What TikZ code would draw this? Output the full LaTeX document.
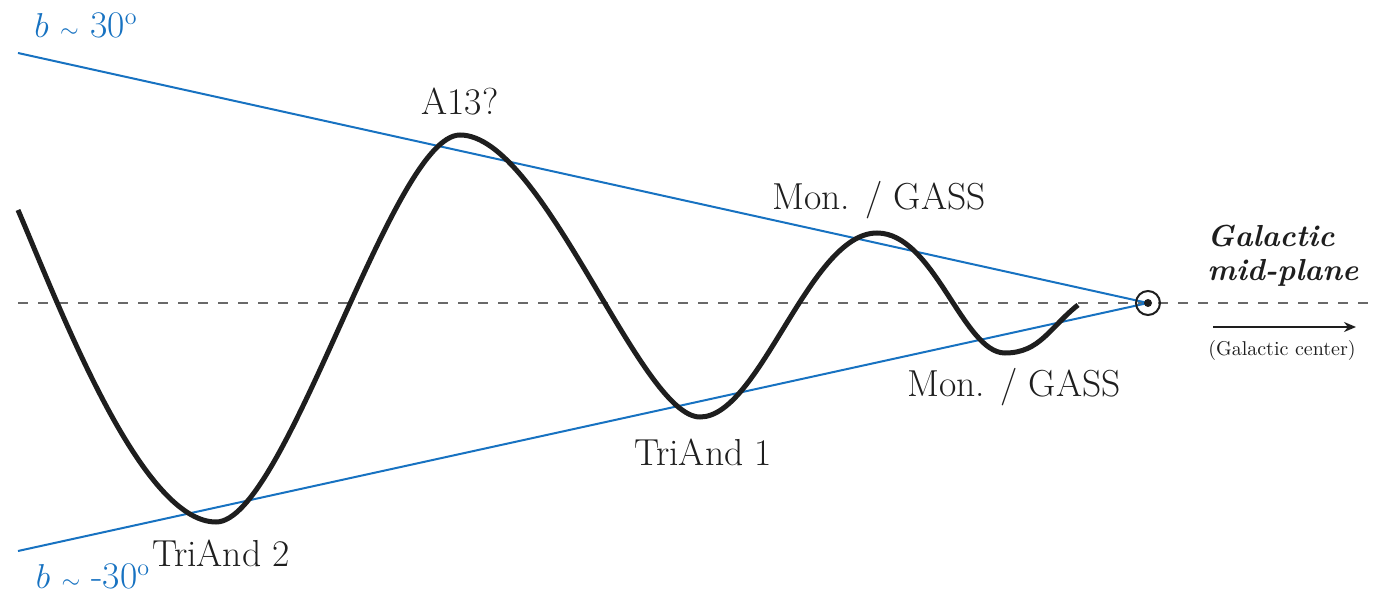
\documentclass[tikz,border=0pt]{standalone}
\usetikzlibrary{arrows.meta}
\definecolor{skyblue}{RGB}{23,114,193}
\definecolor{midgray}{RGB}{105,105,105}
\definecolor{inkblack}{RGB}{30,30,30}
\begin{document}
\begin{tikzpicture}[x=0.5pt,y=-0.5pt,
  bigtext/.style={font=\fontsize{18.8}{22}\selectfont, text=inkblack, inner sep=0pt},
  bluetext/.style={font=\fontsize{18.8}{22}\selectfont, text=skyblue, inner sep=0pt},
  bound/.style={draw=skyblue, line width=1pt},
  wave/.style={draw=inkblack, line width=2.5pt},
  plane/.style={draw=midgray, line width=1.4pt, dash pattern=on 5pt off 5pt}]
\useasboundingbox (0,0) rectangle (1376,593);
% vertex / sun
\coordinate (sun) at (1148,303);
\coordinate (topstart) at (18,53);
\coordinate (botstart) at (18,551);
\coordinate (planeL) at (18,303);
\coordinate (planeR) at (1372,303);
\draw[plane] (planeL) -- (planeR);
\draw[bound] (topstart) -- (sun);
\draw[bound] (botstart) -- (sun);
\node[draw=inkblack, circle, line width=1pt, minimum size=12pt, inner sep=0pt] (suncirc) at (sun) {};
\fill[inkblack] (sun) circle (2pt);
% wave
\coordinate (w0) at (18,210);
\coordinate (w1) at (216,522);
\coordinate (w2) at (460,135);
\coordinate (w3) at (700,417);
\coordinate (w4) at (877,233);
\coordinate (w5) at (1005,353);
\coordinate (w6) at (1078,305);
\draw[wave, line cap=butt]
  (w0) .. controls (58,303) and (140,522) .. (w1)
       .. controls (286,522) and (392,135) .. (w2)
       .. controls (543,135) and (640,417) .. (w3)
       .. controls (760,417) and (809,233) .. (w4)
       .. controls (934,233) and (963,353) .. (w5)
       .. controls (1040,353) and (1050,327) .. (w6);
% labels
\node[bluetext] (bnorth) at (86,25) {$b$ $\scriptstyle\sim$ 30$^{\rm o}$};
\node[bluetext] (bsouth) at (93,576) {$b$ $\scriptstyle\sim$ -30$^{\rm o}$};
\node[bigtext] (a13) at (460,102) {A13?};
\node[bigtext] (mon1) at (879,200) {Mon. / GASS};
\node[bigtext] (mon2) at (1014,387) {Mon. / GASS};
\node[bigtext] (tri1) at (703,452) {TriAnd 1};
\node[bigtext] (tri2) at (221,553) {TriAnd 2};
\node[font=\fontsize{15.2}{16.8}\selectfont\bfseries\itshape, text=inkblack, align=left, inner sep=0pt, anchor=west] (gmp) at (1207,256) {Galactic\\mid-plane};
\coordinate (arrL) at (1213,327);
\coordinate (arrR) at (1356,327);
\draw[draw=inkblack, line width=1pt, -{Stealth[length=6pt,width=5pt]}] (arrL) -- (arrR);
\node[font=\fontsize{10}{12}\selectfont, text=inkblack, inner sep=0pt] (gc) at (1282,350) {(Galactic center)};
\end{tikzpicture}
\end{document}
